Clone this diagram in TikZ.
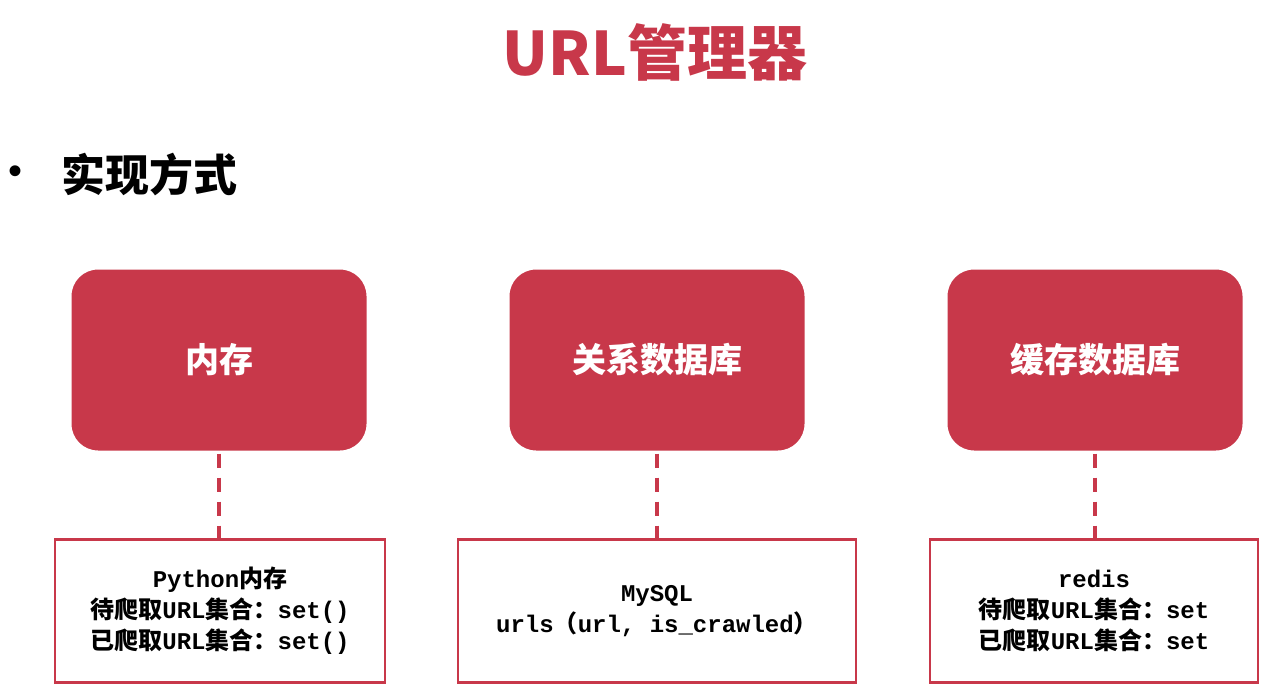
\documentclass[tikz,border=0pt]{standalone}
\usepackage{fontspec}
\setmainfont{Liberation Sans}
\setmonofont{Liberation Mono}
\newfontfamily\cjk{Noto Sans CJK SC}
\usepackage{tikz}
\usetikzlibrary{positioning}
\definecolor{urlred}{HTML}{C8384A}
\newcommand{\zh}[1]{{\cjk\bfseries #1}}
\tikzset{
  store/.style={draw=white,line width=3pt,fill=urlred,rounded corners=28pt,
    minimum width=298pt,minimum height=184pt,text=white,
    font=\cjk\bfseries\fontsize{34}{38}\selectfont},
  impl/.style={draw=urlred,line width=2.5pt,fill=white,minimum height=143pt,
    align=center,font=\ttfamily\bfseries\fontsize{24}{31}\selectfont},
  link/.style={urlred,line width=4pt,dash pattern=on 14pt off 10pt}
}
\begin{document}
\begin{tikzpicture}[x=1pt,y=-1pt]
\useasboundingbox[fill=white] (0,0) rectangle (1281,691);
% title
\node[text=urlred,font=\cjk\bfseries\fontsize{60}{66}\selectfont] (title) at (655,52) {URL管理器};
\node[font=\fontsize{40}{40}\selectfont] (dot) at (16,175) {•};
\node[anchor=west,font=\cjk\bfseries\fontsize{44}{48}\selectfont] (way) at (58,175) {实现方式};
% stores
\node[store] (mem) at (219,360) {内存};
\node[store] (rdb) at (657,360) {关系数据库};
\node[store] (cache) at (1095,360) {缓存数据库};
% implementations
\node[impl,minimum width=330pt] (py) at (220,611)
  {Python\zh{内存}\\\zh{待爬取}URL\zh{集合：}set()\\\zh{已爬取}URL\zh{集合：}set()};
\node[impl,minimum width=398pt] (sql) at (657,611)
  {MySQL\\urls\zh{（}url, is\_crawled\zh{）}};
\node[impl,minimum width=328pt] (rds) at (1094,611)
  {redis\\\zh{待爬取}URL\zh{集合：}set\\\zh{已爬取}URL\zh{集合：}set};
% links
\draw[link] (mem.south) -- (mem.south |- py.north);
\draw[link] (rdb.south) -- (rdb.south |- sql.north);
\draw[link] (cache.south) -- (cache.south |- rds.north);
\end{tikzpicture}
\end{document}
